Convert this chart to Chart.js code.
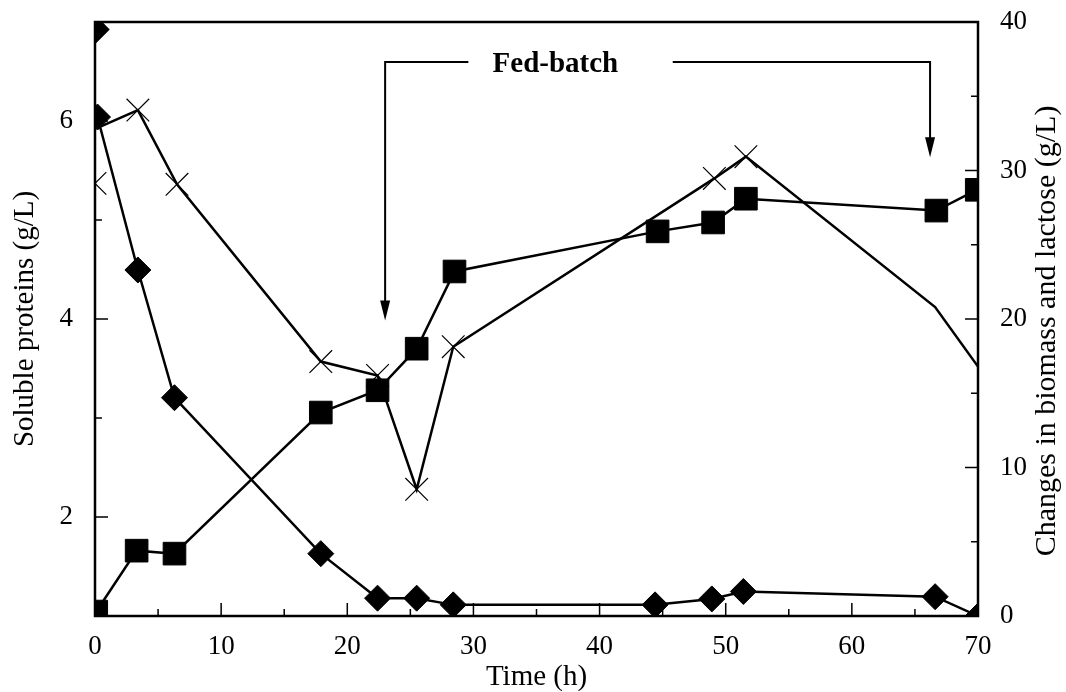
<!DOCTYPE html>
<html>
<head>
<meta charset="utf-8">
<script src="https://cdn.jsdelivr.net/npm/chart.js@4.4.0/dist/chart.umd.min.js"></script>
<style>
  html, body { margin: 0; padding: 0; background: #fff; }
  #wrap { width: 1066px; height: 692px; position: relative; }
</style>
</head>
<body>
<div id="wrap"><canvas id="mainChart"></canvas></div>
<script>
// Fed-batch culture: soluble proteins, biomass and lactose vs time

// lactose (diamonds, right axis)
const timeLactose = [0.2, 3.4, 6.3, 17.9, 22.4, 25.5, 28.4, 44.4, 48.9, 51.4, 66.6, 70];
const lactose = [33.6, 23.3, 14.7, 4.2, 1.2, 1.2, 0.75, 0.75, 1.15, 1.65, 1.3, 0];

// biomass (squares, right axis)
const timeBiomass = [0.1, 3.3, 6.3, 17.9, 22.4, 25.5, 28.5, 44.6, 49.0, 51.6, 66.7, 69.9];
const biomass = [0.3, 4.4, 4.2, 13.7, 15.2, 18.0, 23.2, 25.9, 26.5, 28.1, 27.3, 28.7];

// soluble proteins (crosses, left axis)
const timeProtein = [0.2, 3.4, 6.5, 17.9, 22.4, 25.5, 28.4, 49.1, 51.6, 66.6, 70];
const protein = [5.93, 6.11, 5.36, 3.57, 3.43, 2.28, 3.72, 5.42, 5.64, 4.12, 3.52];
const proteinMarked = [false, true, true, true, true, true, true, true, true, false, false];

// lone points at t = 0
const lactoseStart = [39.5];
const proteinStart = [5.37];

// axis ticks
const timeTicks = [0, 10, 20, 30, 40, 50, 60, 70];
const proteinTicks = [2, 4, 6];
const changeTicks = [0, 10, 20, 30, 40];

// fed-batch period (h)
const fedBatchStart = 23;
const fedBatchEnd = 66.2;

const serif = '"Liberation Serif", "Times New Roman", serif';

function pts(xs, ys) {
    return xs.map((x, i) => ({ x: x, y: ys[i] }));
}

// frame, inward tick marks, right title and fed-batch arrows
const framePlugin = {
    id: 'frame',
    afterDraw(chart) {
        const ctx = chart.ctx;
        const a = chart.chartArea;
        const sx = chart.scales.x, sy = chart.scales.y, sy2 = chart.scales.y2;
        ctx.save();
        ctx.strokeStyle = '#000';
        ctx.lineWidth = 2.5;
        ctx.strokeRect(a.left, a.top, a.right - a.left, a.bottom - a.top);

        ctx.lineWidth = 1.5;
        ctx.beginPath();
        sx.ticks.forEach(t => {
            if (t.value <= sx.min || t.value >= sx.max) return;
            const px = sx.getPixelForValue(t.value);
            const len = timeTicks.includes(t.value) ? 13 : 7;
            ctx.moveTo(px, a.bottom);
            ctx.lineTo(px, a.bottom - len);
        });
        sy.ticks.forEach(t => {
            if (t.value <= sy.min || t.value >= sy.max) return;
            const py = sy.getPixelForValue(t.value);
            const len = proteinTicks.includes(t.value) ? 13 : 7;
            ctx.moveTo(a.left, py);
            ctx.lineTo(a.left + len, py);
        });
        sy2.ticks.forEach(t => {
            if (t.value <= sy2.min || t.value >= sy2.max) return;
            const py = sy2.getPixelForValue(t.value);
            const len = changeTicks.includes(t.value) ? 13 : 7;
            ctx.moveTo(a.right, py);
            ctx.lineTo(a.right - len, py);
        });
        ctx.stroke();

        // right axis title reads bottom to top
        ctx.fillStyle = '#000';
        ctx.font = '30px ' + serif;
        ctx.textAlign = 'center';
        ctx.textBaseline = 'middle';
        ctx.translate(1047, 331);
        ctx.rotate(-Math.PI / 2);
        ctx.fillText('Changes in biomass and lactose (g/L)', 0, 0);
        ctx.restore();

        // Fed-batch annotation
        ctx.save();
        const x1 = sx.getPixelForValue(fedBatchStart);
        const x2 = sx.getPixelForValue(fedBatchEnd);
        const yTop = sy2.getPixelForValue(37.3);
        const tip1 = sy2.getPixelForValue(19.9);
        const tip2 = sy2.getPixelForValue(30.9);
        const textX = sx.getPixelForValue(36.5);
        ctx.strokeStyle = '#000';
        ctx.fillStyle = '#000';
        ctx.lineWidth = 2;
        ctx.beginPath();
        ctx.moveTo(sx.getPixelForValue(29.6), yTop);
        ctx.lineTo(x1, yTop);
        ctx.lineTo(x1, tip1 - 18);
        ctx.moveTo(sx.getPixelForValue(45.8), yTop);
        ctx.lineTo(x2, yTop);
        ctx.lineTo(x2, tip2 - 18);
        ctx.stroke();
        [[x1, tip1], [x2, tip2]].forEach(([x, y]) => {
            ctx.beginPath();
            ctx.moveTo(x - 5, y - 20);
            ctx.lineTo(x + 5, y - 20);
            ctx.lineTo(x, y);
            ctx.closePath();
            ctx.fill();
        });
        ctx.font = 'bold 29px ' + serif;
        ctx.textAlign = 'center';
        ctx.textBaseline = 'middle';
        ctx.fillText('Fed-batch', textX, yTop + 2);
        ctx.restore();
    }
};

const lineBase = {
    borderColor: '#000',
    backgroundColor: '#000',
    borderWidth: 2.5,
    pointBorderColor: '#000',
    pointBackgroundColor: '#000',
    tension: 0,
    clip: 0
};

const ctx = document.getElementById('mainChart');
new Chart(ctx, {
    type: 'line',
    plugins: [framePlugin],
    data: {
        datasets: [
            Object.assign({}, lineBase, {
                label: 'Lactose',
                data: pts(timeLactose, lactose),
                yAxisID: 'y2',
                pointStyle: 'rectRot',
                pointRadius: 13,
                pointBorderWidth: 1
            }),
            Object.assign({}, lineBase, {
                label: 'Biomass',
                data: pts(timeBiomass, biomass),
                yAxisID: 'y2',
                pointStyle: 'rect',
                pointRadius: 16,
                pointBorderWidth: 1
            }),
            Object.assign({}, lineBase, {
                label: 'Soluble proteins',
                data: pts(timeProtein, protein),
                yAxisID: 'y',
                pointStyle: 'crossRot',
                pointRadius: proteinMarked.map(m => m ? 16 : 0),
                pointBorderWidth: 1.2
            }),
            Object.assign({}, lineBase, {
                label: 'Lactose t0',
                data: pts([0], lactoseStart),
                yAxisID: 'y2',
                showLine: false,
                pointStyle: 'rectRot',
                pointRadius: 13
            }),
            Object.assign({}, lineBase, {
                label: 'Protein t0',
                data: pts([0], proteinStart),
                yAxisID: 'y',
                showLine: false,
                pointStyle: 'crossRot',
                pointRadius: 16,
                pointBorderWidth: 1.2
            })
        ]
    },
    options: {
        responsive: true,
        maintainAspectRatio: false,
        animation: false,
        events: [],
        layout: { padding: { top: 22, right: 0, bottom: 0, left: 0 } },
        plugins: {
            legend: { display: false },
            tooltip: { enabled: false }
        },
        scales: {
            x: {
                type: 'linear',
                position: 'bottom',
                min: 0,
                max: 70,
                afterFit: s => { s.height = 76; s.paddingLeft = 0; s.paddingRight = 0; },
                grid: { display: false },
                border: { display: false },
                ticks: {
                    stepSize: 5,
                    color: '#000',
                    padding: 7,
                    maxRotation: 0,
                    font: { family: serif, size: 27 },
                    callback: v => timeTicks.includes(v) ? String(v) : ''
                },
                title: {
                    display: true,
                    text: 'Time (h)',
                    color: '#000',
                    padding: { top: 0, bottom: -3 },
                    font: { family: serif, size: 29 }
                }
            },
            y: {
                type: 'linear',
                position: 'left',
                min: 1,
                max: 7,
                afterFit: s => { s.width = 95; s.paddingTop = 0; s.paddingBottom = 0; },
                grid: { display: false },
                border: { display: false },
                ticks: {
                    stepSize: 1,
                    color: '#000',
                    padding: 14,
                    font: { family: serif, size: 27 },
                    callback: v => proteinTicks.includes(v) ? String(v) : ''
                },
                title: {
                    display: true,
                    text: 'Soluble proteins (g/L)',
                    color: '#000',
                    padding: { top: 8, bottom: 0 },
                    font: { family: serif, size: 29 }
                }
            },
            y2: {
                type: 'linear',
                position: 'right',
                min: 0,
                max: 40,
                afterFit: s => { s.width = 88; s.paddingTop = 0; s.paddingBottom = 0; },
                grid: { display: false },
                border: { display: false },
                ticks: {
                    stepSize: 5,
                    color: '#000',
                    padding: 14,
                    font: { family: serif, size: 27 },
                    callback: v => changeTicks.includes(v) ? String(v) : ''
                }
            }
        }
    }
});
</script>
</body>
</html>
